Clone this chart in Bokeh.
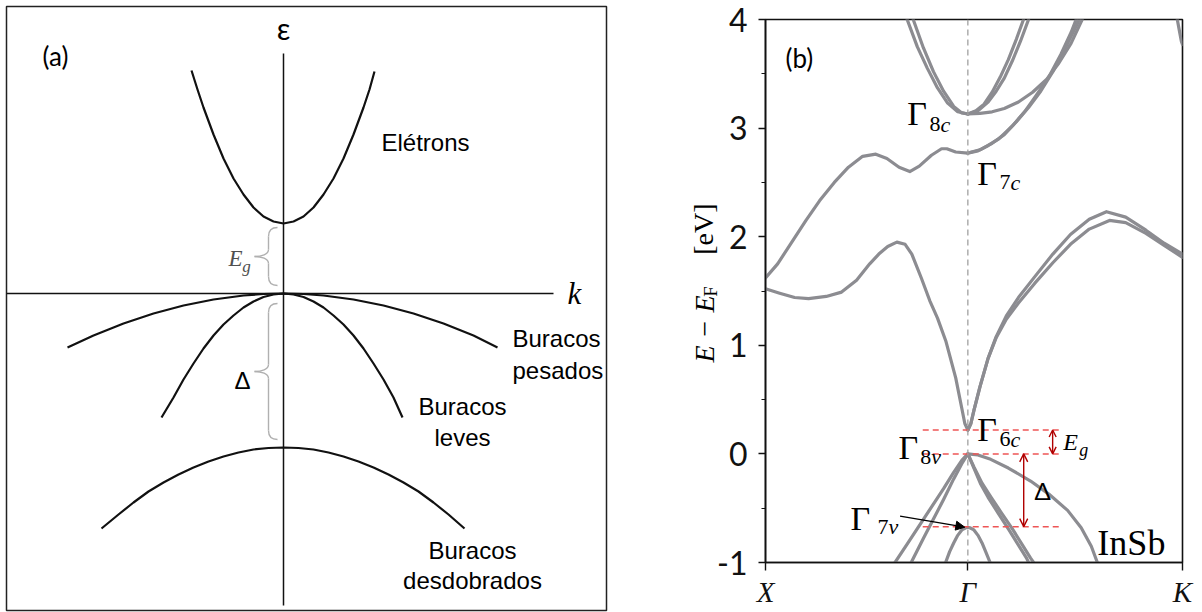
from math import pi
from bokeh.plotting import figure
from bokeh.layouts import row, column
from bokeh.models import Range1d, Label, Span, Arrow, OpenHead, NormalHead, FixedTicker
from bokeh.embed import file_html
from bokeh.resources import INLINE

# ================= Panel (a): schematic band diagram (arbitrary units) =================
elec_k = [-92, -86, -80, -70, -60, -50, -40, -30, -20, -10, 0, 10, 20, 30, 40, 50, 60, 70, 80, 86, 91]
elec_e = [223, 204, 186, 159, 135, 115, 99, 86, 77, 72, 70, 72, 77, 86, 99, 115, 135, 159, 186, 204, 222]
heavy_k = [-216, -190, -160, -130, -100, -70, -40, -20, 0, 20, 40, 70, 100, 130, 160, 190, 214]
heavy_e = [-54, -42, -30, -20, -12, -6, -2, -0.5, 0, -0.5, -2, -6, -12, -20, -30, -42, -54]
light_k = [-122, -110, -100, -90, -80, -70, -60, -50, -40, -30, -20, -10, 0, 10, 20, 30, 40, 50, 60, 70, 80, 90, 100, 110, 119]
light_e = [-124, -104, -86, -70, -55, -42, -31, -22, -14, -8, -3.5, -1, 0, -1, -3.5, -8, -14, -22, -31, -42, -55, -70, -86, -104, -124]
split_k = [-182, -165, -150, -135, -120, -105, -90, -75, -60, -45, -30, -15, 0, 15, 30, 45, 60, 75, 90, 105, 120, 135, 150, 165, 181]
split_e = [-235, -221, -209, -198, -189, -181, -174, -168, -163, -159, -156, -154.5, -154, -154.5, -156, -159, -163, -168, -174, -181, -189, -198, -209, -221, -235]
# braces: (top, bottom) in energy units
eg_brace = (66, 8)
delta_brace = (-10, -146)

# ================= Panel (b): InSb band structure =================
# k path: X = 0, Gamma = 1, K = 2.0607 (units of 2*pi/a)
k_ticks = [0, 1, 2.0607]
k_tick_labels = ["X", "Γ", "K"]
e_ticks = [-1, 0, 1, 2, 3, 4]
e_tick_labels = ["-1", "0", "1", "2", "3", "4"]

so_k = [0.89, 0.91, 0.93, 0.95, 0.97, 0.99, 1.0, 1.01, 1.03, 1.05, 1.07, 1.09, 1.11]
so_e = [-1.0, -0.90, -0.82, -0.75, -0.70, -0.68, -0.675, -0.68, -0.70, -0.75, -0.82, -0.91, -1.0]
hhl_k = [1.0, 0.97, 0.93, 0.88, 0.82, 0.76, 0.70, 0.64]
hhl_e = [0.0, -0.06, -0.17, -0.32, -0.49, -0.66, -0.83, -1.0]
lhl_k = [1.0, 0.97, 0.93, 0.88, 0.83, 0.78, 0.72]
lhl_e = [0.0, -0.09, -0.23, -0.42, -0.60, -0.78, -1.0]
lhr1_k = [1.0, 1.03, 1.064, 1.10, 1.148, 1.20, 1.25, 1.29, 1.30]
lhr1_e = [0.0, -0.13, -0.28, -0.40, -0.54, -0.69, -0.84, -0.96, -1.0]
lhr2_k = [1.0, 1.03, 1.07, 1.115, 1.165, 1.22, 1.27, 1.31, 1.325]
lhr2_e = [0.0, -0.12, -0.27, -0.40, -0.54, -0.69, -0.84, -0.96, -1.0]
hhr_k = [1.0, 1.05, 1.113, 1.2, 1.31, 1.4, 1.493, 1.56, 1.61, 1.64]
hhr_e = [0.0, -0.01, -0.05, -0.13, -0.25, -0.37, -0.52, -0.68, -0.85, -1.0]

c1l_k = [0.0, 0.07, 0.144, 0.213, 0.30, 0.376, 0.45, 0.515, 0.56, 0.604, 0.649, 0.69, 0.723, 0.77, 0.812, 0.85, 0.891, 0.94, 0.97, 0.985, 1.0]
c1l_e = [1.52, 1.48, 1.44, 1.43, 1.45, 1.49, 1.60, 1.75, 1.84, 1.91, 1.95, 1.93, 1.84, 1.62, 1.41, 1.25, 1.04, 0.70, 0.42, 0.28, 0.22]
c1r1_k = [1.0, 1.015, 1.03, 1.06, 1.10, 1.14, 1.19, 1.25, 1.33, 1.42, 1.507, 1.60, 1.685, 1.78, 1.88, 1.97, 2.0607]
c1r1_e = [0.22, 0.28, 0.40, 0.62, 0.88, 1.08, 1.27, 1.44, 1.63, 1.84, 2.02, 2.16, 2.23, 2.18, 2.06, 1.94, 1.84]
c1r2_k = [1.0, 1.015, 1.03, 1.06, 1.10, 1.14, 1.19, 1.25, 1.33, 1.42, 1.507, 1.60, 1.70, 1.78, 1.88, 1.97, 2.0607]
c1r2_e = [0.22, 0.28, 0.40, 0.62, 0.88, 1.07, 1.24, 1.39, 1.57, 1.76, 1.93, 2.07, 2.15, 2.13, 2.03, 1.92, 1.81]

c2l_k = [0.0, 0.06, 0.13, 0.20, 0.267, 0.34, 0.41, 0.48, 0.545, 0.60, 0.66, 0.713, 0.76, 0.82, 0.87, 0.896, 0.94, 1.0]
c2l_e = [1.62, 1.75, 1.95, 2.15, 2.33, 2.50, 2.64, 2.74, 2.76, 2.72, 2.64, 2.60, 2.65, 2.75, 2.81, 2.81, 2.78, 2.77]
c2r1_k = [1.0, 1.05, 1.10, 1.153, 1.22, 1.28, 1.33, 1.40, 1.46, 1.51, 1.535]
c2r1_e = [2.77, 2.79, 2.84, 2.90, 3.02, 3.15, 3.28, 3.47, 3.68, 3.88, 4.0]
c2r2_k = [1.0, 1.06, 1.12, 1.18, 1.24, 1.30, 1.36, 1.42, 1.48, 1.53, 1.55]
c2r2_e = [2.77, 2.80, 2.86, 2.94, 3.06, 3.19, 3.34, 3.52, 3.73, 3.92, 4.0]

c3l1_k = [0.70, 0.75, 0.80, 0.85, 0.90, 0.95, 1.0]
c3l1_e = [4.0, 3.75, 3.55, 3.37, 3.23, 3.15, 3.13]
c3l2_k = [0.73, 0.78, 0.83, 0.88, 0.93, 0.97, 1.0]
c3l2_e = [4.0, 3.74, 3.52, 3.34, 3.20, 3.14, 3.13]
c3r1_k = [1.0, 1.04, 1.08, 1.12, 1.16, 1.20, 1.24, 1.275]
c3r1_e = [3.13, 3.16, 3.22, 3.33, 3.47, 3.63, 3.82, 4.0]
c3r2_k = [1.0, 1.05, 1.10, 1.14, 1.18, 1.22, 1.26, 1.30]
c3r2_e = [3.13, 3.16, 3.24, 3.34, 3.46, 3.62, 3.80, 4.0]
c3f_k = [1.0, 1.06, 1.12, 1.18, 1.25, 1.32, 1.39, 1.45, 1.51, 1.565]
c3f_e = [3.13, 3.135, 3.15, 3.18, 3.24, 3.33, 3.45, 3.60, 3.78, 4.0]
corner_k = [2.035, 2.045, 2.055, 2.0607]
corner_e = [4.0, 3.90, 3.80, 3.77]

# Energies at Gamma
E_G6c = 0.22
E_G8v = 0.0
E_G7v = -0.67
level_k = (0.777, 1.46)

# ======================================================================
GRAY = "#8c8c91"
BLK = "#111111"


def make_label(x, y, text, size, font="Liberation Serif", style="normal",
               align="left", baseline="middle", color="black", angle=0.0, x_offset=0):
    return Label(x=x, y=y, text=text, text_font=font, text_font_size=f"{size}px",
                 text_font_style=style, text_align=align, text_baseline=baseline,
                 text_color=color, angle=angle, x_offset=x_offset)


def add_label(p, *args, **kw):
    p.add_layout(make_label(*args, **kw))


# ---------------- figure (a) ----------------
pa = figure(width=610, height=612, x_range=Range1d(-277, 323), y_range=Range1d(-317, 287),
            output_backend="svg", toolbar_location=None, x_axis_location=None,
            y_axis_location=None, min_border_left=6, min_border_right=4,
            min_border_top=6, min_border_bottom=2)
pa.grid.visible = False
pa.outline_line_color = "#222222"
pa.outline_line_width = 1.5

# coordinate axes
pa.line([-277, 270], [0, 0], line_color=BLK, line_width=1.5)
pa.line([0, 0], [240, -312], line_color=BLK, line_width=1.5)
for kk, ee in [(elec_k, elec_e), (heavy_k, heavy_e), (light_k, light_e), (split_k, split_e)]:
    pa.line(kk, ee, line_color=BLK, line_width=2.2, line_join="round")


def brace(p, top, bottom, xr=-6.0, xv=-15.0, xt=-29.0, color="#b0b0b0"):
    mid = 0.5 * (top + bottom)
    h = 9.0
    segs = [
        (xr, top, xv, top - h, xr - 6, top, xv, top - 3),
        (xv, mid + 7, xt, mid, xv, mid + 2, xt + 7, mid),
        (xt, mid, xv, mid - 7, xt + 7, mid, xv, mid - 2),
        (xv, bottom + h, xr, bottom, xv, bottom + 3, xr - 6, bottom),
    ]
    p.bezier(x0=[s[0] for s in segs], y0=[s[1] for s in segs],
             x1=[s[2] for s in segs], y1=[s[3] for s in segs],
             cx0=[s[4] for s in segs], cy0=[s[5] for s in segs],
             cx1=[s[6] for s in segs], cy1=[s[7] for s in segs],
             line_color=color, line_width=1.4)
    p.segment(x0=[xv, xv], y0=[top - h, mid - 7], x1=[xv, xv], y1=[mid + 7, bottom + h],
              line_color=color, line_width=1.4)


brace(pa, *eg_brace)
brace(pa, *delta_brace)

SANS = "Liberation Sans"
add_label(pa, -228, 238, "(a)", 26, font="Lato", align="center")
add_label(pa, 0, 266, "ε", 30, font="Lato", align="center")
add_label(pa, 291, 0, "k", 31, style="italic", align="center")
add_label(pa, -48, 35, "E", 23, style="italic", color="#505050", align="center")
add_label(pa, -37, 27, "g", 17, style="italic", color="#505050", align="center")
add_label(pa, -41, -87, "Δ", 24, font=SANS, align="center")
add_label(pa, 98, 151, "Elétrons", 24, font=SANS)
add_label(pa, 229, -45, "Buracos", 24, font=SANS)
add_label(pa, 229, -77, "pesados", 24, font=SANS)
add_label(pa, 179, -113, "Buracos", 24, font=SANS, align="center")
add_label(pa, 179, -144, "leves", 24, font=SANS, align="center")
add_label(pa, 189, -257, "Buracos", 24, font=SANS, align="center")
add_label(pa, 189, -287, "desdobrados", 24, font=SANS, align="center")

# ---------------- figure (b) ----------------
pb = figure(width=592, height=612, x_range=Range1d(0, 2.0607), y_range=Range1d(-1, 4),
            output_backend="svg", toolbar_location=None,
            min_border_left=155, min_border_right=20, min_border_top=19, min_border_bottom=50)
pb.grid.visible = False
pb.outline_line_color = "#111111"
pb.outline_line_width = 1.6

pb.yaxis.ticker = FixedTicker(ticks=e_ticks, minor_ticks=[-0.5, 0.5, 1.5, 2.5, 3.5])
pb.yaxis.major_label_overrides = {t: s for t, s in zip(e_ticks, e_tick_labels)}
pb.yaxis.major_label_text_font = "Lato"
pb.yaxis.major_label_text_font_size = "32px"
pb.yaxis.major_tick_out = 7
pb.yaxis.major_tick_in = 0
pb.yaxis.minor_tick_out = 4
pb.yaxis.minor_tick_in = 0
pb.yaxis.major_label_standoff = 11

pb.xaxis.ticker = FixedTicker(ticks=k_ticks, minor_ticks=[])
pb.xaxis.major_label_overrides = {t: s for t, s in zip(k_ticks, k_tick_labels)}
pb.xaxis.major_label_text_font = "Liberation Serif"
pb.xaxis.major_label_text_font_style = "italic"
pb.xaxis.major_label_text_font_size = "29px"
pb.xaxis.major_tick_out = 8
pb.xaxis.major_tick_in = 0
pb.xaxis.major_label_standoff = 5
for ax in (pb.xaxis[0], pb.yaxis[0]):
    ax.axis_line_color = "#111111"
    ax.axis_line_width = 1.6
    ax.major_tick_line_color = "#111111"
    ax.major_tick_line_width = 1.4
    ax.minor_tick_line_color = "#111111"
    ax.minor_tick_line_width = 1.2
    ax.major_label_text_color = "#111111"

pb.add_layout(Span(location=1.0, dimension="height", line_color="#a0a0a0",
                   line_dash="6 4", line_width=1.3))

bands = [(so_k, so_e), (hhl_k, hhl_e), (lhl_k, lhl_e), (lhr1_k, lhr1_e), (lhr2_k, lhr2_e),
         (hhr_k, hhr_e), (c1l_k, c1l_e), (c1r1_k, c1r1_e), (c1r2_k, c1r2_e),
         (c2l_k, c2l_e), (c2r1_k, c2r1_e), (c2r2_k, c2r2_e),
         (c3l1_k, c3l1_e), (c3l2_k, c3l2_e), (c3r1_k, c3r1_e), (c3r2_k, c3r2_e),
         (c3f_k, c3f_e), (corner_k, corner_e)]
for kk, ee in bands:
    pb.line(kk, ee, line_color=GRAY, line_width=3.2, line_join="round", line_cap="round")

levels = [E_G6c, E_G8v, E_G7v]
pb.segment(x0=[level_k[0]] * 3, y0=levels, x1=[level_k[1]] * 3, y1=levels,
           line_color="#ee5555", line_width=1.5, line_dash="6 4")

RED = "#b00000"
pb.add_layout(Arrow(x_start=1.419, y_start=E_G8v, x_end=1.419, y_end=E_G6c,
                    start=OpenHead(size=7, line_color=RED, line_width=1.4),
                    end=OpenHead(size=7, line_color=RED, line_width=1.4),
                    line_color=RED, line_width=1.4))
pb.add_layout(Arrow(x_start=1.276, y_start=E_G8v, x_end=1.276, y_end=E_G7v,
                    start=OpenHead(size=8, line_color=RED, line_width=1.4),
                    end=OpenHead(size=8, line_color=RED, line_width=1.4),
                    line_color=RED, line_width=1.4))
pb.add_layout(Arrow(x_start=0.665, y_start=-0.572, x_end=0.985, y_end=-0.675,
                    end=NormalHead(size=9, fill_color="black", line_color="black"),
                    line_color="black", line_width=1.3))

# Gamma point labels (left edge, vertical centre)
G = 34
S = 22
add_label(pb, 0.701, 3.134, "Γ", G)
add_label(pb, 0.810, 3.037, "8", S)
add_label(pb, 0.810, 3.037, "c", S, style="italic", x_offset=11)
add_label(pb, 1.047, 2.585, "Γ", G)
add_label(pb, 1.156, 2.503, "7", S)
add_label(pb, 1.156, 2.503, "c", S, style="italic", x_offset=11)
add_label(pb, 1.047, 0.225, "Γ", G)
add_label(pb, 1.156, 0.136, "6", S)
add_label(pb, 1.156, 0.136, "c", S, style="italic", x_offset=11)
add_label(pb, 0.657, 0.063, "Γ", G)
add_label(pb, 0.765, -0.025, "8", S)
add_label(pb, 0.765, -0.025, "v", S, style="italic", x_offset=11)
add_label(pb, 0.420, -0.597, "Γ", G)
add_label(pb, 0.553, -0.67, "7", S)
add_label(pb, 0.553, -0.67, "v", S, style="italic", x_offset=11)

add_label(pb, 1.640, -0.817, "InSb", 36)
add_label(pb, 0.099, 3.65, "(b)", 26, font="Lato")
add_label(pb, 1.472, 0.109, "E", 24, style="italic")
add_label(pb, 1.551, 0.04, "g", 18, style="italic")
add_label(pb, 1.369, -0.337, "Δ", 24, font="Lato", align="center")

# rotated y-axis title: E − E_F [eV]  (placed in the left side panel, outside the frame)
pb.add_layout(make_label(-0.301, 0.841, "E − E", 28, style="italic", angle=pi / 2), "left")
pb.add_layout(make_label(-0.272, 1.448, "F", 19, angle=pi / 2), "left")
pb.add_layout(make_label(-0.304, 1.834, "[eV]", 28, angle=pi / 2), "left")

layout = row(column(pa), column(pb), spacing=0)
open("out.html", "w").write(file_html(layout, INLINE))
